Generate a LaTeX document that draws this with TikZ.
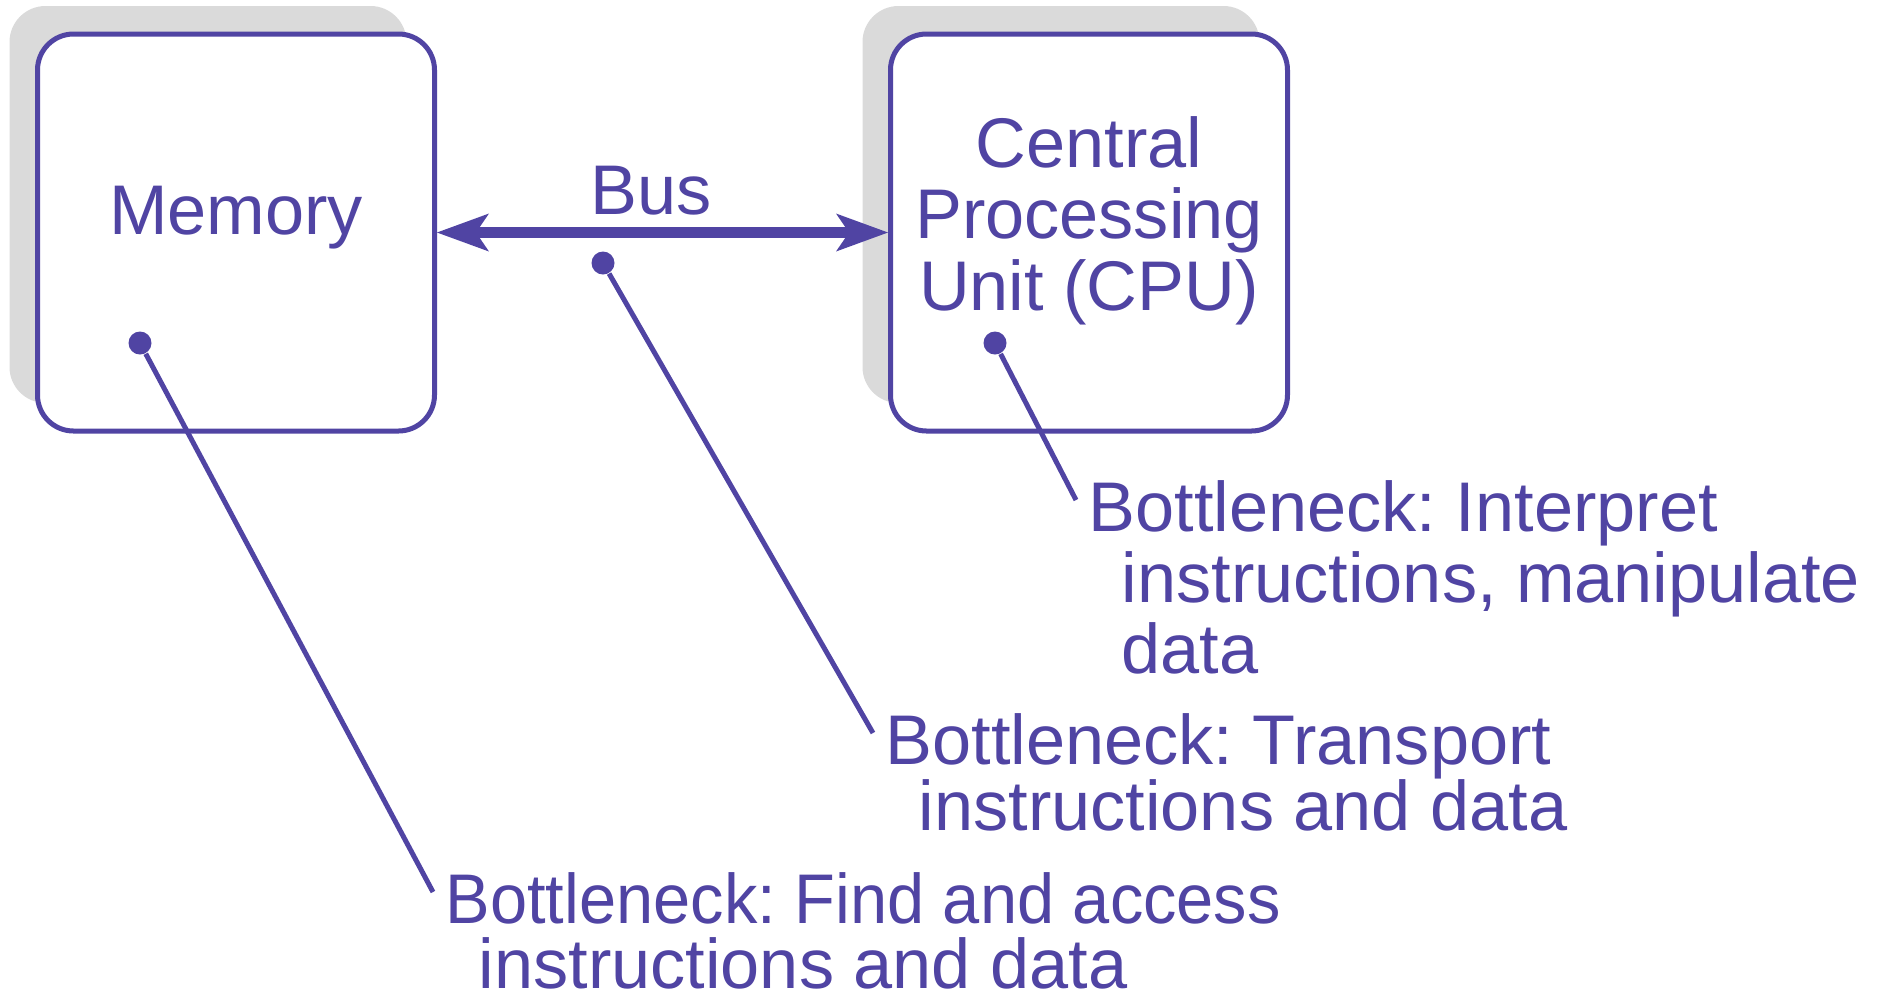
\documentclass[tikz,border=0pt]{standalone}
\usepackage{fontspec}
\setmainfont{Liberation Sans}
\usepackage{graphicx}
\usepackage{tikz}
\usetikzlibrary{arrows.meta, positioning, shadows}

\definecolor{busblue}{RGB}{80,68,163}
\definecolor{shadowgray}{RGB}{218,218,218}

\frenchspacing

\begin{document}
\begin{tikzpicture}[
    x=0.1mm, y=-0.1mm,
    >=Stealth, % 矢印の形
    % 角丸ブロック（左上に灰色の影）
    block/.style={rectangle, rounded corners=3.6mm, draw=busblue, line width=0.5mm, fill=white,
        minimum width=39.7mm, minimum height=39.7mm,
        drop shadow={shadow xshift=-2.8mm, shadow yshift=2.8mm, fill=shadowgray, opacity=1}},
    % ブロック内の文字
    blocktext/.style={text=busblue, align=center, font=\fontsize{20}{20.3}\selectfont},
    % 注釈の文字（行間は注釈ごとに指定）
    notetext/.style={text=busblue, align=left, anchor=north west, inner xsep=1.2mm, inner ysep=0pt,
        font=\fontsize{20}{#1}\selectfont},
    notetext/.default=19pt,
    % 引き出し線の根元の丸
    tipdot/.style={circle, fill=busblue, inner sep=0pt, minimum size=2.3mm},
    leader/.style={draw=busblue, line width=0.5mm},
    busarrow/.style={draw=busblue, line width=1.05mm,
        {Stealth[length=5.2mm, width=3.8mm, inset=1.3mm, line width=0pt]}-{Stealth[length=5.2mm, width=3.8mm, inset=1.3mm, line width=0pt]}}
]
\useasboundingbox (0,0) rectangle (1877,997);

% 1. ブロックの配置
\node [block] (mem) at (236,232.5) {};
\node [block, right=45.1mm of mem] (cpu) {};
\node [blocktext] (mem text) at ([yshift=1.5mm]mem.center) {Memory};
\node [blocktext] (cpu text) at ([yshift=1.2mm]cpu.center) {Central\\Processing\\Unit (CPU)};

% 2. バス（両方向の矢印）
\draw [busarrow] (mem.east) -- node[blocktext, above, pos=.475] (bus label) {Bus} (cpu.west);

% 3. 引き出し線の丸と注釈
\node [tipdot] (mem dot) at (140,343) {};
\node [tipdot] (bus dot) at (603,263) {};
\node [tipdot] (cpu dot) at (995,343) {};

\node [notetext=20.2pt] (cpu note) at (1076,480) {Bottleneck: Interpret\\\hspace*{0.47em}instructions, manipulate\\\hspace*{0.47em}data};
\node [notetext=18.8pt] (bus note) at (873,713) {Bottleneck: Transport\\\hspace*{0.47em}instructions and data};
\node [notetext=18.5pt] (mem note) at (433,872) {\scalebox{0.95}[1]{Bottleneck: Find and access}\\\hspace*{0.47em}instructions and data};

% 丸から注釈の左上へ線を引く
\draw [leader] (mem dot) -- ([yshift=-2mm]mem note.north west);
\draw [leader] (bus dot) -- ([yshift=-2mm]bus note.north west);
\draw [leader] (cpu dot) -- ([yshift=-2mm]cpu note.north west);

\end{tikzpicture}
\end{document}
